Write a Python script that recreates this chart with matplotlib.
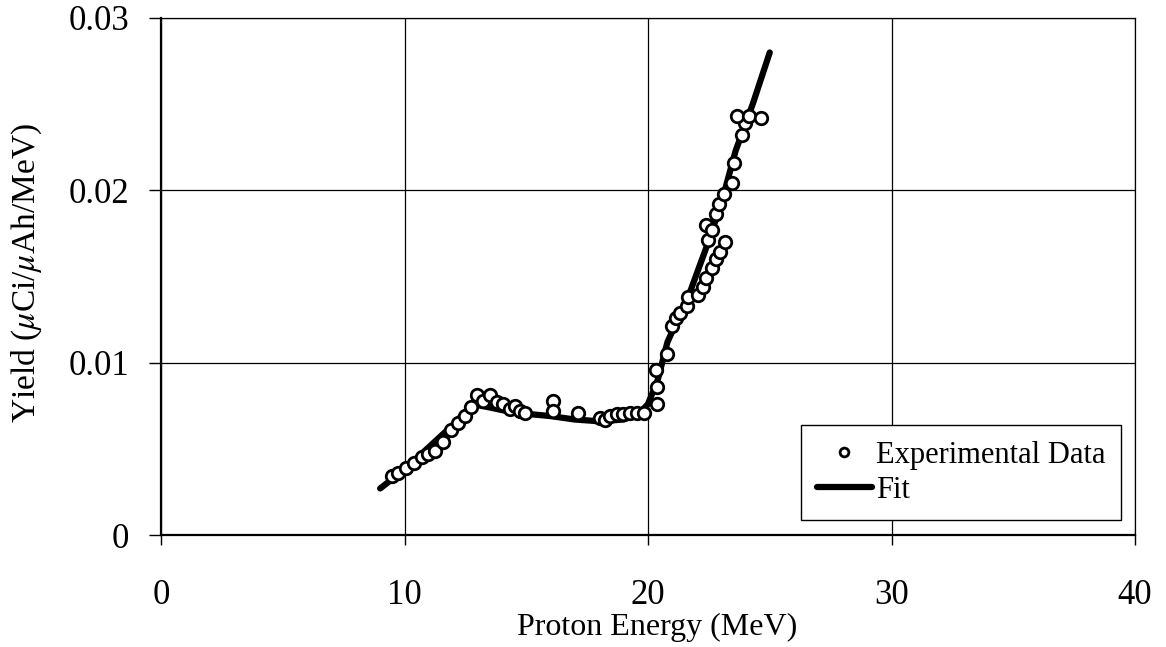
import matplotlib
matplotlib.use("Agg")
import matplotlib.pyplot as plt

plt.rcParams['font.family'] = ['Liberation Serif', 'DejaVu Serif']
plt.rcParams['mathtext.fontset'] = 'stix'

# experimental yield points (MeV, uCi/uAh/MeV)
exp_energy = [9.5, 9.75, 10.05, 10.4, 10.7, 10.98, 11.25, 11.6, 11.93, 12.2,
              12.48, 12.72, 12.96, 13.24, 13.5, 13.78, 14.06, 14.33, 14.54, 14.74,
              14.95, 16.1, 16.1, 17.13, 18.03, 18.23, 18.44, 18.71, 18.98, 19.26,
              19.53, 19.85, 20.36, 20.36, 20.33, 20.77, 20.97, 21.17, 21.31, 21.59,
              21.65, 22.06, 22.27, 22.4, 22.61, 22.79, 22.96, 23.16, 22.4, 22.47,
              22.61, 22.79, 22.93, 23.12, 23.43, 23.53, 23.84, 23.98, 23.64, 24.16,
              24.66]
exp_yield = [0.0034, 0.0036, 0.0039, 0.0042, 0.0045, 0.0047, 0.0049, 0.0054, 0.0061, 0.0065,
             0.0069, 0.0074, 0.0081, 0.0078, 0.0081, 0.0077, 0.0076, 0.0073, 0.0075, 0.0072,
             0.0071, 0.0078, 0.0072, 0.0071, 0.0068, 0.0067, 0.0069, 0.0070, 0.0070, 0.0071,
             0.0071, 0.0071, 0.0076, 0.0086, 0.0096, 0.0105, 0.0121, 0.0126, 0.0129, 0.0133,
             0.0138, 0.0139, 0.0144, 0.0149, 0.0155, 0.0160, 0.0164, 0.0170, 0.0180, 0.0171,
             0.0177, 0.0186, 0.0192, 0.0198, 0.0204, 0.0216, 0.0232, 0.0239, 0.0243, 0.0243,
             0.0242]

# fitted curve
fit_energy = [9.0, 10.0, 11.0, 12.0, 12.8, 13.5, 14.5, 16.0, 17.0, 18.0,
              19.0, 19.6, 20.0, 20.4, 20.8, 21.7, 22.4, 23.0, 23.6, 24.3, 25.0]
fit_yield = [0.0027, 0.0038, 0.0051, 0.0064, 0.0076, 0.0074, 0.0071, 0.0069, 0.0067, 0.0066,
             0.0067, 0.0070, 0.0076, 0.0090, 0.0112, 0.0140, 0.0167, 0.0192, 0.0223, 0.0250,
             0.0280]

fig = plt.figure(figsize=(11.66, 6.47), dpi=100)
ax = fig.add_axes([161/1166, 1 - 535/647, 974/1166, 517/647])

ax.plot(fit_energy, fit_yield, color='black', lw=4.5, solid_capstyle='round',
        label='Fit', zorder=2)
ax.plot(exp_energy, exp_yield, 'o', ms=9, mfc='white', mec='black', mew=2,
        label='Experimental Data', zorder=3)

ax.set_xlim(0, 40)
ax.set_ylim(0, 0.03)
ax.set_xticks([0, 10, 20, 30, 40])
ax.set_yticks([0, 0.01, 0.02, 0.03])
ax.set_yticklabels(['0', '0.01', '0.02', '0.03'])
ax.grid(True, color='black', lw=0.9)
ax.set_axisbelow(True)

for s in ['top', 'right']:
    ax.spines[s].set_linewidth(0.9)
for s in ['left', 'bottom']:
    ax.spines[s].set_linewidth(1.6)

ax.tick_params(axis='y', direction='out', length=9, width=1, labelsize=25, pad=14)
ax.tick_params(axis='x', direction='out', length=7, width=1, labelsize=25, pad=25)

ax.set_xlabel('Proton Energy (MeV)', fontsize=23)
ax.xaxis.set_label_coords(0.509, -0.15)
ax.set_ylabel(r'Yield ($\mu$Ci/$\mu$Ah/MeV)', fontsize=24)
ax.yaxis.set_label_coords(-0.12, 0.507)

# legend: markers first, then line
h, l = ax.get_legend_handles_labels()
leg = ax.legend(h[::-1], l[::-1], loc='lower right', bbox_to_anchor=(0.9856, 0.029),
                borderaxespad=0, fontsize=22, fancybox=False, edgecolor='black',
                framealpha=1, handlelength=1.8, handletextpad=0.15, labelspacing=0.2,
                borderpad=0.5, markerscale=0.7)
leg.get_frame().set_linewidth(1.0)

fig.savefig('out.png', dpi=100)
